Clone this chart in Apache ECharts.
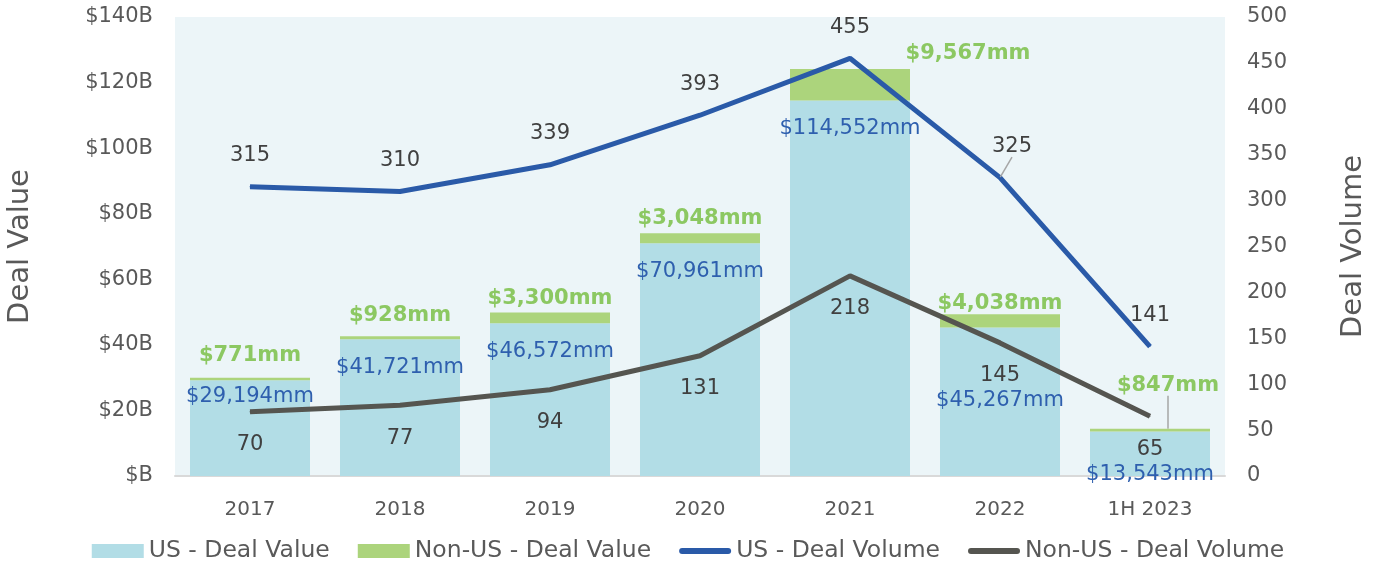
<!DOCTYPE html>
<html>
<head>
<meta charset="UTF-8">
<title>Deal Value and Volume</title>
<script src="https://cdn.jsdelivr.net/npm/echarts@6/dist/echarts.min.js"></script>
<style>
  html, body { margin: 0; padding: 0; background: #fff; }
  #main { width: 1376px; height: 563px; }
</style>
</head>
<body>
<div id="main"></div>
<script>
// categories and values ($mm for value, count for volume)
var years = ['2017', '2018', '2019', '2020', '2021', '2022', '1H 2023'];
var usValue = [29194, 41721, 46572, 70961, 114552, 45267, 13543];
var nonUsValue = [771, 928, 3300, 3048, 9567, 4038, 847];
var usVolume = [315, 310, 339, 393, 455, 325, 141];
var nonUsVolume = [70, 77, 94, 131, 218, 145, 65];
var valueTicks = [0, 20000, 40000, 60000, 80000, 100000, 120000, 140000];
var volumeTicks = [0, 50, 100, 150, 200, 250, 300, 350, 400, 450, 500];

var FONT = '"DejaVu Sans", sans-serif';
var grey = '#595959';

function mm(v) {
    return '$' + v.toLocaleString('en-US') + 'mm';
}

// label nudges for a few crowded spots
var usValOffset = [[0,-12],[0,0],[0,0],[0,0],[0,0],[0,44],[0,14]];
var nonUsValOffset = [[0,-9],[0,-7],[0,0],[0,-1],[118,-2],[0,3],[18,-30]];
var lineIcon = 'path://M3,0 L49,0 A3,3 0 0 1 49,6 L3,6 A3,3 0 0 1 3,0 Z';

var myChart = echarts.init(document.getElementById('main'));

var option = {
    animation: false,
    textStyle: { fontFamily: FONT },
    grid: {
        left: 175, right: 151, top: 17, bottom: 87,
        outerBoundsMode: 'none',
        show: true, backgroundColor: '#ecf5f8', borderWidth: 0
    },
    legend: {
        bottom: -5,
        left: 'center',
        itemWidth: 52,
        itemHeight: 14,
        itemGap: 28,
        textStyle: { fontSize: 23.5, color: grey, fontFamily: FONT },
        data: [
            { name: 'US - Deal Value', icon: 'rect' },
            { name: 'Non-US - Deal Value', icon: 'rect' },
            { name: 'US - Deal Volume', icon: lineIcon },
            { name: 'Non-US - Deal Volume', icon: lineIcon }
        ]
    },
    xAxis: {
        type: 'category',
        data: years,
        axisTick: { show: false },
        axisLine: { lineStyle: { color: '#d9d9d9', width: 2 } },
        axisLabel: { color: grey, fontSize: 20, margin: 24, fontFamily: FONT }
    },
    yAxis: [
        {
            type: 'value',
            min: valueTicks[0],
            max: valueTicks[valueTicks.length - 1],
            interval: valueTicks[1] - valueTicks[0],
            name: 'Deal Value',
            nameLocation: 'middle',
            nameGap: 140,
            nameTextStyle: { fontSize: 29, color: grey, fontFamily: FONT },
            splitLine: { show: false },
            axisLine: { show: false },
            axisTick: { show: false },
            axisLabel: {
                color: grey, fontSize: 21, margin: 22, fontFamily: FONT,
                formatter: function (v) { return '$' + (v ? v / 1000 : '') + 'B'; }
            }
        },
        {
            type: 'value',
            min: volumeTicks[0],
            max: volumeTicks[volumeTicks.length - 1],
            interval: volumeTicks[1] - volumeTicks[0],
            name: 'Deal Volume',
            nameLocation: 'middle',
            nameGap: 114,
            nameTextStyle: { fontSize: 29, color: grey, fontFamily: FONT },
            splitLine: { show: false },
            axisLine: { show: false },
            axisTick: { show: false },
            axisLabel: { color: grey, fontSize: 21, margin: 22, fontFamily: FONT }
        }
    ],
    series: [
        {
            name: 'US - Deal Value',
            type: 'bar',
            stack: 'value',
            barWidth: '80%',
            itemStyle: { color: '#b2dde6' },
            data: usValue,
            label: {
                show: true, position: 'insideTop', distance: 18,
                color: '#2e5fae', fontSize: 21, fontFamily: FONT,
                formatter: function (p) { return mm(p.value); }
            },
            labelLayout: function (p) {
                var o = usValOffset[p.dataIndex];
                return { dx: o[0], dy: o[1] };
            },
            z: 2
        },
        {
            name: 'Non-US - Deal Value',
            type: 'bar',
            stack: 'value',
            barWidth: '80%',
            itemStyle: { color: '#acd47c' },
            data: nonUsValue.map(function (v, i) {
                var d = { value: v };
                if (i === 6) d.labelLine = { show: true };
                return d;
            }),
            label: {
                show: true, position: 'top', distance: 3,
                color: '#8cc862', fontSize: 21, fontWeight: 'bold', fontFamily: FONT,
                formatter: function (p) { return mm(p.value); }
            },
            labelLine: { show: false, lineStyle: { color: '#a6a6a6', width: 1.5 } },
            labelLayout: function (p) {
                var o = nonUsValOffset[p.dataIndex];
                return { dx: o[0], dy: o[1] };
            },
            z: 2
        },
        {
            name: 'US - Deal Volume',
            type: 'line',
            yAxisIndex: 1,
            symbol: 'circle',
            symbolSize: 1,
            lineStyle: { color: '#2a5aa8', width: 5 },
            itemStyle: { color: '#2a5aa8' },
            data: usVolume.map(function (v, i) {
                var d = { value: v };
                if (i === 5) d.labelLine = { show: true };
                return d;
            }),
            label: {
                show: true, position: 'top', distance: 20,
                color: '#404040', fontSize: 21, fontFamily: FONT
            },
            labelLine: { show: false, lineStyle: { color: '#a6a6a6', width: 1.5 } },
            labelLayout: function (p) {
                if (p.dataIndex === 5) return { dx: 12, dy: 0 };
            },
            z: 4
        },
        {
            name: 'Non-US - Deal Volume',
            type: 'line',
            yAxisIndex: 1,
            symbol: 'circle',
            symbolSize: 1,
            lineStyle: { color: '#555550', width: 5 },
            itemStyle: { color: '#555550' },
            data: nonUsVolume,
            label: {
                show: true, position: 'bottom', distance: 22,
                color: '#404040', fontSize: 21, fontFamily: FONT
            },
            z: 3
        }
    ]
};

myChart.setOption(option);
</script>
</body>
</html>
